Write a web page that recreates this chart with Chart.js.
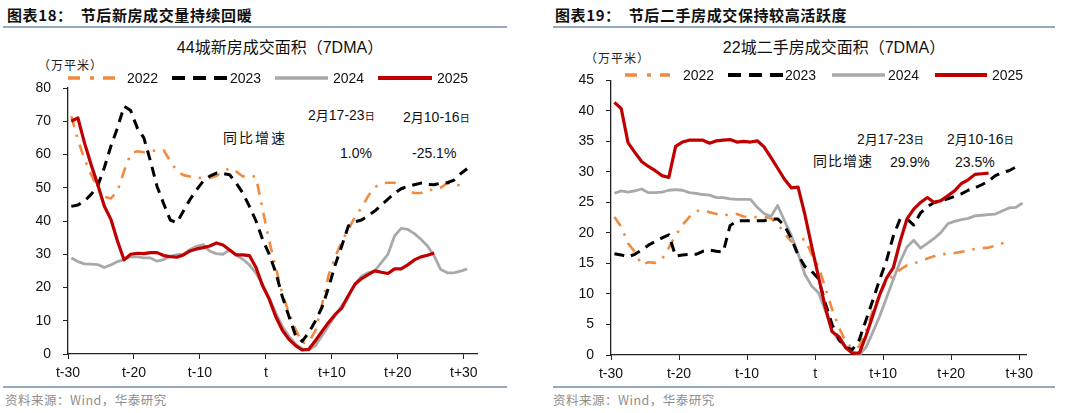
<!DOCTYPE html>
<html>
<head>
<meta charset="utf-8">
<script src="https://cdn.jsdelivr.net/npm/chart.js@4.4.1/dist/chart.umd.min.js"></script>
<style>
  body { margin: 0; width: 1080px; height: 413px; background: #fff; position: relative; overflow: hidden;
         font-family: "Liberation Sans", Arial, "Noto Sans CJK SC", sans-serif; color: #111; }
  .abs { position: absolute; white-space: nowrap; line-height: 1; }
  .head { font-family: "Noto Sans CJK SC", sans-serif; font-weight: bold; font-size: 15px; letter-spacing: 0.6px; }
  .rule { position: absolute; height: 2px; background: #95aabf; }
  .ctitle { font-size: 16px; transform: translateX(-50%); }
  .ctitle span, .cjk { font-family: "Noto Sans CJK SC", sans-serif; }
  .unit { font-family: "Noto Sans CJK SC", sans-serif; font-size: 12px; color: #222; letter-spacing: 1px; }
  .note { font-size: 14px; }
  .note small { font-family: "Noto Sans CJK SC", sans-serif; font-size: 10px; }
  .yue { font-family: "Noto Sans CJK SC", sans-serif; font-size: 13px; }
  .src { font-family: "Noto Sans CJK SC", sans-serif; font-size: 12.5px; color: #8e8e8e; letter-spacing: 0.5px; }
  .box { position: absolute; }
</style>
</head>
<body>

<!-- headers -->
<div class="abs head" style="left:7px; top:7px;">图表18：&nbsp;&nbsp;节后新房成交量持续回暖</div>
<div class="abs head" style="left:555px; top:7px;">图表19：&nbsp;&nbsp;节后二手房成交保持较高活跃度</div>
<div class="rule" style="left:3px; top:26px; width:504px;"></div>
<div class="rule" style="left:553px; top:26px; width:502px;"></div>

<div class="abs ctitle" style="left:280px; top:38px;">44<span>城新房成交面积（</span>7DMA<span>）</span></div>
<div class="abs ctitle" style="left:834px; top:38px;">22<span>城二手房成交面积（</span>7DMA<span>）</span></div>

<div class="abs unit" style="left:38px; top:59px;">（万平米）</div>
<div class="abs unit" style="left:585px; top:52px;">（万平米）</div>

<!-- left annotations -->
<div class="abs note cjk" style="left:223px; top:130px; letter-spacing:2px;">同比增速</div>
<div class="abs note" style="left:308px; top:108px;">2<span class="yue">月</span>17-23<small>日</small></div>
<div class="abs note" style="left:403px; top:110px;">2<span class="yue">月</span>10-16<small>日</small></div>
<div class="abs note" style="left:340px; top:146px;">1.0%</div>
<div class="abs note" style="left:412px; top:146px;">-25.1%</div>

<!-- right annotations -->
<div class="abs note cjk" style="left:813px; top:153px; letter-spacing:1px;">同比增速</div>
<div class="abs note" style="left:857px; top:132px;">2<span class="yue">月</span>17-23<small>日</small></div>
<div class="abs note" style="left:947px; top:132px;">2<span class="yue">月</span>10-16<small>日</small></div>
<div class="abs note" style="left:890px; top:155px;">29.9%</div>
<div class="abs note" style="left:955px; top:155px;">23.5%</div>

<div class="box" style="left:0px; top:60px;"><canvas id="newHome" width="500" height="325"></canvas></div>
<div class="box" style="left:545px; top:60px;"><canvas id="secondHand" width="535" height="325"></canvas></div>

<div class="rule" style="left:3px; top:386px; width:504px;"></div>
<div class="rule" style="left:553px; top:386px; width:502px;"></div>
<div class="abs src" style="left:5px; top:394px;">资料来源：Wind，华泰研究</div>
<div class="abs src" style="left:553px; top:394px;">资料来源：Wind，华泰研究</div>

<script>
/* ---------- data ---------- */
const years = ["2022", "2023", "2024", "2025"];
const xTickLabels = ["t-30", "t-20", "t-10", "t", "t+10", "t+20", "t+30"];

// 44城新房成交面积 (7DMA), 万平米, one value per day from t-30
const newHome2022 = [71.5, 64.5, 58.5, 54, 50, 47.3, 46.8, 49, 55, 60.2,
  61, 60.7, 61, 61.3, 61.3, 58, 55, 53.8, 53.4, 53,
  52.9, 52.9, 53.6, 54.8, 55.9, 54.9, 53.4, 53.8, 53.2, 43.5,
  34, 26, 18, 12.4, 7.4, 3.3, 3.5, 7, 14.8, 23.7,
  29.2, 33.8, 37.5, 41.2, 44, 47.5, 50.2, 51.3, 51.5, 51.5,
  50.2, 49, 48.4, 48.4, 49.4, 49.3, 50, 51.4, 51, 50.7, 50.6];
const newHome2023 = [44.4, 44.8, 46, 48, 50.5, 56, 62.5, 68, 74.5, 73.2,
  68, 65, 58, 50.4, 45.2, 40.3, 39.5, 43, 46.5, 49.4,
  52, 53.5, 54.4, 54.3, 53.9, 51.4, 48.4, 44.4, 40, 34.5,
  30, 24.5, 17.2, 11.3, 5.5, 3.8, 6.5, 9.9, 14, 20,
  26.8, 32.5, 38.5, 39.8, 40.3, 41.6, 43, 44.8, 46.6, 48.3,
  49.7, 50.4, 50.9, 51.4, 51, 50.9, 51.4, 51.5, 52.3, 54.2, 55.7];
const newHome2024 = [28.9, 27.8, 27.1, 27.0, 26.9, 26.0, 26.8, 27.8, 28.4, 29.3,
  29.2, 28.9, 28.9, 27.9, 28.4, 29.4, 29.9, 30.0, 31.4, 32.4,
  32.9, 30.9, 30.2, 30.0, 31.3, 29.8, 28.5, 26.8, 24.3, 21,
  16.8, 12.3, 8.3, 5.3, 3, 1.6, 1.2, 2.5, 5.5, 8.5,
  11.5, 14.5, 17.5, 21, 23.4, 24.4, 25, 27.5, 30, 35.5,
  37.8, 37.5, 36.2, 34.5, 32.5, 29.5, 25.4, 24.4, 24.4, 24.9, 25.6];
const newHome2025 = [70, 71, 63.5, 57, 51, 44.5, 40.5, 34, 28.3, 30,
  30.3, 30.2, 30.5, 30.5, 29.6, 29.3, 29.1, 29.8, 31, 31.6,
  32, 32.5, 33.4, 32.8, 31.3, 29.8, 29.8, 29.6, 26, 20.5,
  16.5, 11.2, 7.1, 4.4, 2.5, 1.2, 1.4, 4, 6.8, 9.5,
  11.9, 13.8, 17.5, 21, 22.7, 23.9, 25, 24.6, 24.2, 25.6,
  25.6, 26.8, 28.3, 29.2, 29.7, 30.4];

// 22城二手房成交面积 (7DMA), 万平米
const secondHand2022 = [22.6, 21, 18.3, 16.9, 14.8, 15.2, 15.1, 15.7, 17.6, 19.6,
  21.3, 22.6, 23.6, 23.7, 23.4, 23.1, 22.8, 23.1, 23.1, 22.7,
  22.6, 22.6, 22.7, 22.4, 21.5, 19.9, 18.6, 18.8, 19, 16.5,
  14.5, 11, 7.5, 4.5, 2.2, 1, 1.4, 4, 7.3, 10,
  12.1, 13, 14, 14.7, 15, 15.4, 15.8, 16.2, 16.5, 16.6,
  16.7, 16.9, 17.1, 17.4, 17.5, 17.6, 17.9, 18.3, 18.4];
const secondHand2023 = [16.6, 16.4, 16.1, 16.5, 17.2, 18.0, 18.6, 19.2, 19.7, 16.2,
  16.4, 16.5, 16.5, 17.0, 17.2, 17.0, 16.9, 21.2, 22, 22,
  22, 22, 22, 22.3, 22.3, 21.2, 19.1, 16.4, 14.5, 13.7,
  12.5, 8.5, 5, 2.5, 1.2, 0.9, 2.5, 5.8, 9, 12.4,
  15.5, 19.5, 22.3, 22.3, 21.3, 23.3, 24.3, 25, 25.3, 25.6,
  26, 26.4, 27, 27.4, 27.9, 28.5, 29.4, 29.9, 30.2, 30.8];
const secondHand2024 = [26.5, 26.9, 26.7, 26.9, 27.2, 26.6, 26.6, 26.7, 27.0, 27.1,
  27.0, 26.6, 26.5, 26.3, 26.2, 25.8, 25.8, 25.6, 25.5, 25.5,
  25.5, 24.2, 23.2, 22.7, 24.5, 22, 19.6, 16.6, 13.2, 11.3,
  10.2, 7.3, 4, 2.4, 1.3, 0.5, 0, 1.3, 3.8, 6.4,
  9.4, 12.4, 15.3, 17.7, 18.8, 17.5, 18.3, 19.1, 20.1, 21.5,
  21.9, 22.2, 22.4, 22.8, 22.9, 23.0, 23.1, 23.6, 24.1, 24.2, 24.9];
const secondHand2025 = [41.4, 40.4, 34.8, 33.2, 31.7, 30.9, 30.2, 29.4, 29.1, 34.2,
  34.9, 35.2, 35.2, 35.2, 34.7, 35.1, 35.2, 35.3, 34.9, 35.0,
  34.9, 35.1, 34.1, 32.4, 30.6, 28.8, 27.4, 27.5, 23, 17.8,
  12.8, 7.8, 3.8, 3.0, 1.2, 0.3, 0.3, 3.2, 6.5, 9.9,
  12.6, 14.3, 18.6, 22.3, 23.9, 25, 25.8, 25, 25.3, 26.1,
  26.9, 28.1, 28.7, 29.6, 29.7, 29.8];

/* ---------- styles ---------- */
const lineStyles = {
  "2022": { color: "#ef8a3e", width: 2.6, dash: [11, 8, 2.5, 8], legendDash: [12, 10, 4, 9], order: 4 },
  "2023": { color: "#000000", width: 3, dash: [10, 7], legendDash: [13, 8], order: 2 },
  "2024": { color: "#a9a9a9", width: 2.8, dash: [], legendDash: [], order: 3 },
  "2025": { color: "#c00000", width: 3.2, dash: [], legendDash: [], order: 1 },
};

// day i sits in the middle of its slot, ticks mark slot boundaries every 10 days
function toPoints(values) {
  return values.map((v, i) => ({ x: i + 0.5, y: v }));
}

const lineLegend = {
  id: "lineLegend",
  afterDraw(chart, args, opts) {
    const ctx = chart.ctx;
    ctx.save();
    chart.data.datasets.forEach((ds, i) => {
      const [x0, x1, tx] = opts.items[i];
      const st = lineStyles[ds.label];
      ctx.beginPath();
      ctx.setLineDash(st.legendDash);
      ctx.strokeStyle = st.color;
      ctx.lineWidth = st.width + 0.8;
      ctx.moveTo(x0, opts.y);
      ctx.lineTo(x1, opts.y);
      ctx.stroke();
      ctx.setLineDash([]);
      ctx.fillStyle = "#111";
      ctx.font = '14px "Liberation Sans", Arial';
      ctx.textBaseline = "middle";
      ctx.fillText(ds.label, tx, opts.y + 1);
    });
    ctx.restore();
  },
};

function makeChart(id, series, cfg) {
  const datasets = years.map((yr, k) => ({
    label: yr,
    data: toPoints(series[k]),
    borderColor: lineStyles[yr].color,
    borderWidth: lineStyles[yr].width,
    borderDash: lineStyles[yr].dash,
    borderCapStyle: "butt",
    borderJoinStyle: "round",
    pointRadius: 0,
    tension: 0,
    fill: false,
    order: lineStyles[yr].order,
  }));

  return new Chart(document.getElementById(id), {
    type: "line",
    data: { datasets },
    options: {
      responsive: false,
      animation: false,
      events: [],
      layout: { padding: cfg.padding },
      plugins: {
        legend: { display: false },
        tooltip: { enabled: false },
        lineLegend: cfg.legend,
      },
      scales: {
        x: {
          type: "linear",
          min: 0,
          max: cfg.xMax,
          afterBuildTicks: (s) => {
            s.ticks = xTickLabels.map((_, i) => ({ value: i * 10 }));
          },
          afterFit: (s) => { s.height = 25; },
          ticks: {
            autoSkip: false,
            maxRotation: 0,
            padding: 6,
            color: "#111",
            font: { family: '"Liberation Sans", Arial', size: 14 },
            callback: (v) => xTickLabels[Math.round(v / 10)],
          },
          grid: { drawOnChartArea: false, drawTicks: true, tickLength: 5, color: "#222", lineWidth: 1 },
          border: { color: "#222", width: 1.3 },
        },
        y: {
          min: 0,
          max: cfg.yMax,
          afterFit: (s) => { s.width = cfg.yWidth; },
          ticks: {
            stepSize: cfg.yStep,
            padding: 12,
            color: "#111",
            font: { family: '"Liberation Sans", Arial', size: 14 },
          },
          grid: { drawOnChartArea: false, drawTicks: true, tickLength: 5, color: "#222", lineWidth: 1 },
          border: { color: "#222", width: 1.3 },
        },
      },
    },
    plugins: [lineLegend],
  });
}

makeChart("newHome", [newHome2022, newHome2023, newHome2024, newHome2025], {
  xMax: 62, yMax: 80, yStep: 10, yWidth: 68,
  padding: { left: 0, right: 23, top: 28, bottom: 6 },
  legend: { y: 18, items: [[68, 115, 127], [172, 227, 230], [275, 328, 333], [378, 432, 437]] },
});

makeChart("secondHand", [secondHand2022, secondHand2023, secondHand2024, secondHand2025], {
  xMax: 61, yMax: 45, yStep: 5, yWidth: 66,
  padding: { left: 0, right: 54, top: 16, bottom: 5 },
  legend: { y: 15, items: [[80, 125, 138], [183, 238, 240], [287, 340, 343], [390, 442, 447]] },
});
</script>
</body>
</html>
